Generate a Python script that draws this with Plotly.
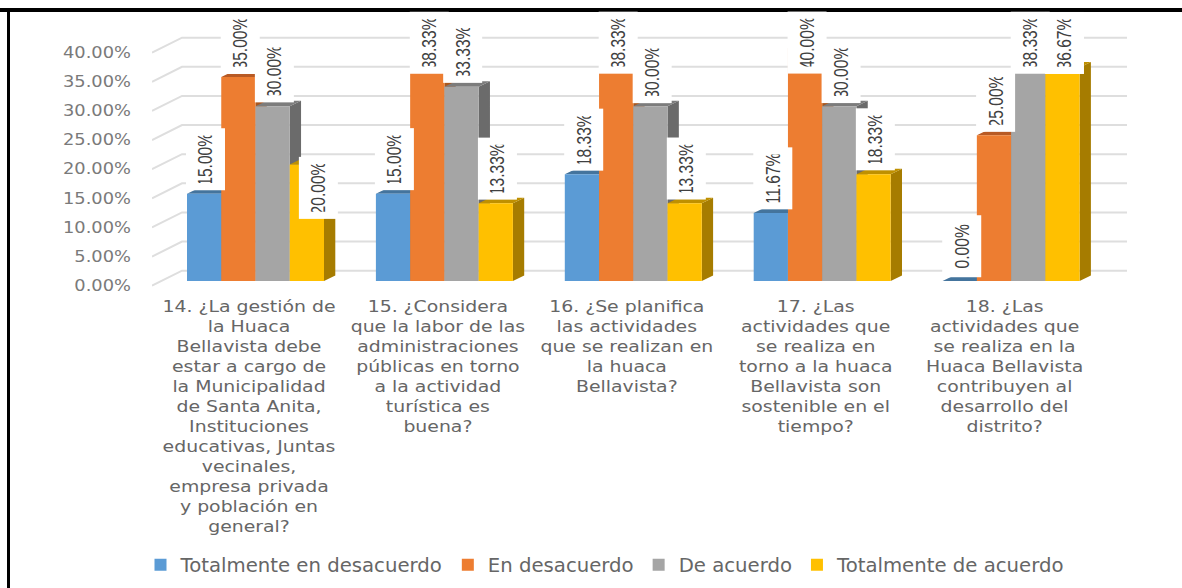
import plotly.graph_objects as go

categories = [
    "14. ¿La gestión de<br>la Huaca<br>Bellavista debe<br>estar a cargo de<br>la Municipalidad<br>de Santa Anita,<br>Instituciones<br>educativas, Juntas<br>vecinales,<br>empresa privada<br>y población en<br>general?",
    "15. ¿Considera<br>que la labor de las<br>administraciones<br>públicas en torno<br>a la actividad<br>turística es<br>buena?",
    "16. ¿Se planifica<br>las actividades<br>que se realizan en<br>la huaca<br>Bellavista?",
    "17. ¿Las<br>actividades que<br>se realiza en<br>torno a la huaca<br>Bellavista son<br>sostenible en el<br>tiempo?",
    "18. ¿Las<br>actividades que<br>se realiza en la<br>Huaca Bellavista<br>contribuyen al<br>desarrollo del<br>distrito?",
]
series_names = ["Totalmente en desacuerdo", "En desacuerdo", "De acuerdo", "Totalmente de acuerdo"]
totalmente_en_desacuerdo = [15.00, 15.00, 18.33, 11.67, 0.00]
en_desacuerdo = [35.00, 38.33, 38.33, 40.00, 25.00]
de_acuerdo = [30.00, 33.33, 30.00, 30.00, 38.33]
totalmente_de_acuerdo = [20.00, 13.33, 13.33, 18.33, 36.67]
y_ticks = [0, 5, 10, 15, 20, 25, 30, 35, 40]

series = [totalmente_en_desacuerdo, en_desacuerdo, de_acuerdo, totalmente_de_acuerdo]
front = ["#5B9BD5", "#ED7D31", "#A5A5A5", "#FFC000"]
side = ["#3F6F9A", "#A9571F", "#6B6B6B", "#A67C00"]
top_c = ["#44749D", "#B85A24", "#7C7C7C", "#BF9000"]

W, H = 1182, 588
PL, PR, PB = 152, 1127, 285.7
PX_Y = 5.825          # px per percent
PX_X = 188.9          # px per category
YRANGE = [(PB - H) / PX_Y, PB / PX_Y]   # plot area spans the full height so the legend stays inside it
X0 = (PL - 255.5) / PX_X
X1 = (PR - 255.5) / PX_X
BW = 34.25 / PX_X
BASE = (PB - 281) / PX_Y
DX, DY = 11.3 / PX_X, 5.5 / PX_Y
WX, WY = 30 / PX_X, 15 / PX_Y
xs = list(range(len(categories)))

fig = go.Figure()

gx, gy = [], []
for t in y_ticks:
    gx += [X0, X0 + WX, X1, None]
    gy += [t, t + WY, t + WY, None]
fig.add_trace(go.Scatter(x=gx, y=gy, mode="lines", line=dict(color="#DEDEDE", width=2),
                         showlegend=False, hoverinfo="skip"))

for i, vals in enumerate(series):
    sx, sy, tx, ty = [], [], [], []
    for c, v in zip(xs, vals):
        xl = c + (i - 2) * BW
        xr = xl + BW
        t = BASE + v
        sx += [xr, xr + DX, xr + DX, xr, xr, None]
        sy += [BASE, BASE + DY, t + DY, t, BASE, None]
        tx += [xl, xl + DX, xr + DX, xr, xl, None]
        ty += [t, t + DY, t + DY, t, t, None]
    fig.add_trace(go.Scatter(x=sx, y=sy, mode="lines", fill="toself", fillcolor=side[i],
                             line=dict(width=0, color=side[i]), showlegend=False, hoverinfo="skip"))
    fig.add_trace(go.Scatter(x=tx, y=ty, mode="lines", fill="toself", fillcolor=top_c[i],
                             line=dict(width=0, color=top_c[i]), showlegend=False, hoverinfo="skip"))

for i, vals in enumerate(series):
    fig.add_trace(go.Bar(x=xs, y=vals, base=BASE, name=series_names[i], marker=dict(color=front[i], line_width=0),
                         xaxis="x2", yaxis="y2", width=BW, offset=[(i - 2) * BW] * len(xs)))

ann = []
CAP = (PB - 42.5) / PX_Y
for i, vals in enumerate(series):
    for c, v in zip(xs, vals):
        xc = c + (i - 1.5) * BW + 1.5 / PX_X
        yc = min(BASE + v + 34.5 / PX_Y, CAP)
        if c == 0 and i == 3:       # label moved by hand in the original
            xc += 10 / PX_X
            yc = BASE + v - 23.5 / PX_Y
        ann.append(dict(x=xc, y=yc, xref="x", yref="y", text=f"{v:.2f}%", textangle=-90,
                        showarrow=False, xanchor="center", yanchor="middle", bgcolor="#FFFFFF",
                        width=61, height=38, align="center", valign="middle", borderpad=0,
                        font=dict(family="Liberation Sans", size=20, color="#404040")))

fig.update_layout(
    width=W, height=H,
    margin=dict(l=PL, r=W - PR, t=0, b=0, pad=0),
    paper_bgcolor="#FFFFFF", plot_bgcolor="#FFFFFF",
    barmode="overlay",
    xaxis=dict(range=[X0, X1], tickmode="array", tickvals=[c - 6.5 / PX_X for c in xs], ticktext=categories,
               anchor="free", position=(H - PB) / H,
               tickangle=0, showgrid=False, zeroline=False, showline=False, ticks="", ticklabelstandoff=10,
               tickfont=dict(family="DejaVu Sans", size=15.4, color="#666666")),
    yaxis=dict(range=YRANGE, tickmode="array", tickvals=y_ticks, ticktext=[f"{t:.2f}%" for t in y_ticks],
               showgrid=False, zeroline=False, showline=False, ticks="", ticklabelstandoff=20,
               tickfont=dict(family="DejaVu Sans", size=15, color="#7A7A7A")),
    xaxis2=dict(range=[X0, X1], overlaying="x", visible=False),
    yaxis2=dict(range=YRANGE, overlaying="y", visible=False),
    legend=dict(orientation="h", x=(605 - PL) / (PR - PL), xanchor="center", xref="paper",
                y=1 - 565 / H, yanchor="middle", yref="paper",
                font=dict(family="DejaVu Sans", size=19.7, color="#666666"), traceorder="normal",
                bgcolor="rgba(0,0,0,0)"),
    annotations=ann,
    shapes=[
        dict(type="rect", xref="paper", yref="paper", layer="above", line_width=0, fillcolor="#000000",
             x0=-PL / (PR - PL), x1=(W - PL) / (PR - PL), y0=1 - 12 / H, y1=1 - 8 / H),
        dict(type="rect", xref="paper", yref="paper", layer="above", line_width=0, fillcolor="#000000",
             x0=(7 - PL) / (PR - PL), x1=(10 - PL) / (PR - PL), y0=0, y1=1 - 8 / H),
    ],
    showlegend=True,
)

# The reference text is a horizontally stretched (axis) or squeezed (data labels) picture of its font.
POST = """
document.body.style.margin = '0';
document.body.style.overflow = 'hidden';
function squash(sel, s) {
  document.querySelectorAll(sel).forEach(function (el) {
    var t = el.getAttribute('transform') || '';
    if (t.indexOf('scale(') >= 0) return;
    var x = parseFloat(el.getAttribute('x')) || 0;
    el.setAttribute('transform', t + ' translate(' + x + ',0) scale(' + s + ',1) translate(' + (-x) + ',0)');
  });
}
function restyle() {
  squash('.xtick text', 1.225);
  squash('.ytick text', 1.19);
  squash('text.annotation-text', 0.78);
}
var gd = document.getElementsByClassName('plotly-graph-div')[0];
gd.on && gd.on('plotly_afterplot', restyle);
restyle();
[30, 150, 500].forEach(function (d) { setTimeout(restyle, d); });
"""
fig.write_html("out.html", post_script=POST, config={"displayModeBar": False})
